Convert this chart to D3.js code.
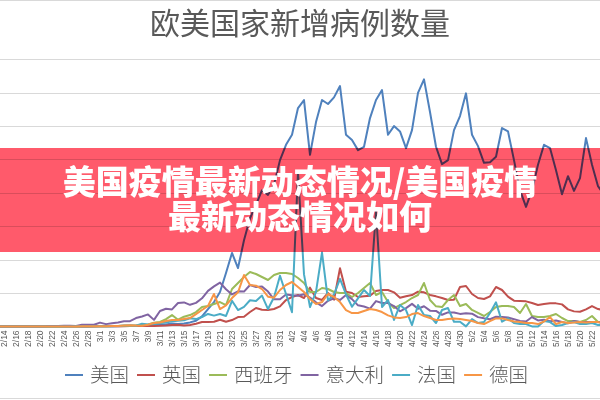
<!DOCTYPE html>
<html>
<head>
<meta charset="utf-8">
<script src="https://cdn.jsdelivr.net/npm/d3@7"></script>
<style>
    body { margin: 0; background: #fff; }
    svg { display: block; font-family: "Noto Sans CJK SC", "Noto Sans", sans-serif; }
</style>
</head>
<body>
<svg width="600" height="400"></svg>
<script>
/*
    欧美国家新增病例数量 - line chart with banner overlay
 */

const dates = [
    "2/13","2/14","2/15","2/16","2/17","2/18","2/19","2/20","2/21","2/22","2/23","2/24","2/25","2/26","2/27","2/28","2/29",
    "3/1","3/2","3/3","3/4","3/5","3/6","3/7","3/8","3/9","3/10","3/11","3/12","3/13","3/14","3/15","3/16",
    "3/17","3/18","3/19","3/20","3/21","3/22","3/23","3/24","3/25","3/26","3/27","3/28","3/29","3/30","3/31",
    "4/1","4/2","4/3","4/4","4/5","4/6","4/7","4/8","4/9","4/10","4/11","4/12","4/13","4/14","4/15",
    "4/16","4/17","4/18","4/19","4/20","4/21","4/22","4/23","4/24","4/25","4/26","4/27","4/28","4/29","4/30",
    "5/1","5/2","5/3","5/4","5/5","5/6","5/7","5/8","5/9","5/10","5/11","5/12","5/13","5/14","5/15","5/16",
    "5/17","5/18","5/19","5/20","5/21","5/22","5/23","5/24"
];

const usa = [
    0,1,0,0,0,0,0,0,0,0,0,0,0,1,2,0,6,
    8,12,20,25,60,70,100,110,130,200,290,280,420,350,450,600,850,1500,2600,3650,
    5150,8000,11000,8740,12900,16200,18200,20400,19700,21200,24900,
    27200,28700,32700,33900,25700,30600,33900,33300,34300,36000,
    28700,27900,26400,26900,31200,33900,35400,28700,30000,29200,
    26700,29400,34970,37000,32100,26900,24300,24900,29400,31500,
    34900,28700,27000,24500,24600,25400,29700,29200,24900,20400,
    17900,20400,24200,27200,26700,23400,19800,22500,20300,22200,
    28200,24200,21000,19700
];

const uk = [
    0,0,0,0,0,0,0,0,0,0,0,0,0,0,0,0,0,
    12,4,11,34,30,48,43,67,48,52,83,134,207,264,150,200,400,650,650,700,
    1000,700,950,1400,1450,2150,2750,2500,2450,2600,3000,
    3950,4400,4700,4250,5800,4250,3950,5000,4000,8700,
    5200,5000,4400,4500,4600,5300,5450,5450,5100,4300,
    4500,4700,5200,5100,4700,4500,4250,3950,4000,5900,
    6050,4850,4250,4100,4500,5900,5450,4450,3850,3800,
    3750,3500,3200,3350,3450,3450,3300,2550,2250,2200,
    2550,3050,2600,2450
];

const spain = [
    0,0,0,0,0,0,0,0,0,0,0,0,4,2,6,10,13,
    30,40,50,60,80,100,150,250,300,550,660,1100,1700,1000,1450,1700,2150,2900,3050,3350,
    3650,3200,5600,6500,7400,8140,7850,7400,6950,7700,8000,
    8000,7850,7250,6500,5150,5150,5750,5600,5150,5000,
    5000,4400,5000,5750,6500,4700,5150,3650,2750,3200,
    3650,4250,4700,6500,3950,3000,2900,3950,4700,3050,
    3350,2460,2010,1560,2160,2900,3050,3050,2900,2010,
    3350,1560,1410,1410,1560,1860,1260,800,800,660,
    960,1560,660,500
];

const italy = [
    0,0,0,0,0,0,0,0,17,62,53,97,93,78,250,238,240,
    566,342,466,587,769,778,1247,1492,1797,977,2313,2651,2547,3497,3590,3233,3526,4207,5322,5986,
    6557,5560,4789,5249,5210,6203,5909,5974,5217,4050,4053,
    4782,4668,4585,4805,4316,3599,3039,3836,4204,3951,
    4694,4092,3153,2972,2667,3786,3493,3491,3047,2256,
    2729,3370,2646,3021,2357,2324,1739,2091,2086,1872,
    1965,1900,1389,1221,1075,1444,1401,1327,1083,802,
    744,1402,888,992,789,875,675,451,813,665,
    642,652,669,531
];

const france = [
    0,0,0,0,0,0,0,0,0,0,0,0,2,4,20,19,43,
    30,61,21,73,138,190,103,410,286,372,497,595,785,838,924,1210,1097,1404,1861,1617,
    1847,1559,3838,2446,2931,3922,3809,4611,2599,4376,7578,
    4861,2116,23060,7788,2886,5171,11059,3881,4799,7120,
    4785,2937,4188,5450,4560,17164,2900,3950,960,3200,
    2450,200,3200,1700,1560,500,2450,2750,700,700,
    0,1100,500,650,2000,3600,700,1200,500,350,
    350,0,0,800,650,50,200,500,650,350,
    350,500,200,200
];

const germany = [
    0,0,0,0,0,0,0,0,0,0,0,0,0,1,10,19,13,
    40,30,50,70,120,180,120,100,260,500,580,800,950,950,1100,1250,1850,2450,3050,4850,
    2600,3150,4250,5100,7700,6200,6100,5600,4450,4300,5450,
    6200,6650,5900,5150,4100,3350,3650,4850,4400,3650,
    2450,2000,2000,2300,2600,2450,2150,1650,1350,1250,
    1400,1850,2000,1550,1250,950,950,1100,1200,1100,
    950,800,500,350,800,1200,1200,950,730,650,
    500,500,350,730,1400,350,650,500,600,650,
    600,650,650,500
];

const seriesNames = ["美国", "英国", "西班牙", "意大利", "法国", "德国"];
const seriesValues = [usa, uk, spain, italy, france, germany];
const colors = ["#4f81bd", "#c0504d", "#9bbb59", "#8064a2", "#4bacc6", "#f79646"];
const yTicks = [0, 5000, 10000, 15000, 20000, 25000, 30000, 35000, 40000];
// every other day from 2/14 to 5/22 gets a label
const tickDates = dates.filter((d, i) => i % 2 === 1 && i < dates.length - 2);

const chartTitle = "欧美国家新增病例数量";
const bannerLines = ["美国疫情最新动态情况/美国疫情", "最新动态情况如何"];

const config = {
    width: 600,
    height: 400,
    xStart: -2,
    xEnd: 604,
    plotTop: 59.3,
    plotBottom: 326.4
};

const svg = d3.select("svg");

const x = d3.scalePoint().domain(dates).range([config.xStart, config.xEnd]);
const y = d3.scaleLinear().domain([0, 40000]).range([config.plotBottom, config.plotTop]);

// frame lines (chart border, cropped at the sides)
svg.append("line").attr("x1", 0).attr("x2", 600).attr("y1", 0.5).attr("y2", 0.5)
    .attr("stroke", "#d9d9d9");
svg.append("line").attr("x1", 0).attr("x2", 600).attr("y1", 398.5).attr("y2", 398.5)
    .attr("stroke", "#d9d9d9");

// title
svg.append("text")
    .attr("x", 300)
    .attr("y", 34)
    .attr("text-anchor", "middle")
    .attr("font-size", 30)
    .attr("fill", "#595959")
    .text(chartTitle);

// gridlines
svg.append("g")
    .attr("class", "grid")
    .selectAll("line")
    .data(yTicks)
    .join("line")
    .attr("x1", 0)
    .attr("x2", config.width)
    .attr("y1", d => Math.round(y(d)) + 0.5)
    .attr("y2", d => Math.round(y(d)) + 0.5)
    .attr("stroke", "#d9d9d9")
    .attr("stroke-width", 1);

// x axis labels
const xAxis = d3.axisBottom(x).tickValues(tickDates).tickSize(0).tickPadding(0);
svg.append("g")
    .attr("class", "x-axis")
    .attr("transform", `translate(0, ${config.plotBottom})`)
    .call(xAxis)
    .call(g => g.select(".domain").remove())
    .call(g => g.selectAll("text")
        .attr("transform", "rotate(-90)")
        .attr("x", -4)
        .attr("y", 0)
        .attr("dy", "0.32em")
        .attr("text-anchor", "end")
        .attr("font-family", "'Liberation Sans', Arial, sans-serif")
        .attr("font-size", 8.5)
        .attr("fill", "#595959"));

// lines
const line = d3.line()
    .x((d, i) => x(dates[i]))
    .y(d => y(d));

svg.append("g")
    .attr("class", "series")
    .selectAll("path")
    .data(seriesValues)
    .join("path")
    .attr("d", line)
    .attr("fill", "none")
    .attr("stroke", (d, i) => colors[i])
    .attr("stroke-width", 2)
    .attr("stroke-linejoin", "round")
    .attr("stroke-linecap", "round");

// legend
const legend = svg.append("g").attr("class", "legend");
let lx = 65;
seriesNames.forEach((name, i) => {
    legend.append("line")
        .attr("x1", lx).attr("x2", lx + 18)
        .attr("y1", 375).attr("y2", 375)
        .attr("stroke", colors[i])
        .attr("stroke-width", 2);
    const t = legend.append("text")
        .attr("x", lx + 25)
        .attr("y", 382)
        .attr("font-size", 19.5)
        .attr("font-weight", 300)
        .attr("fill", "#595959")
        .text(name);
    lx = lx + 25 + t.node().getComputedTextLength() + 8;
});

// banner overlay
svg.append("rect")
    .attr("x", 0)
    .attr("y", 148)
    .attr("width", config.width)
    .attr("height", 104)
    .attr("fill", "#ff5a6b")
    .style("mix-blend-mode", "multiply");

svg.append("g")
    .attr("class", "banner-text")
    .selectAll("text")
    .data(bannerLines)
    .join("text")
    .attr("x", 300)
    .attr("y", (d, i) => 194 + i * 35)
    .attr("text-anchor", "middle")
    .attr("font-size", 33)
    .attr("font-weight", 900)
    .attr("fill", "#fff")
    .text(d => d);
</script>
</body>
</html>
